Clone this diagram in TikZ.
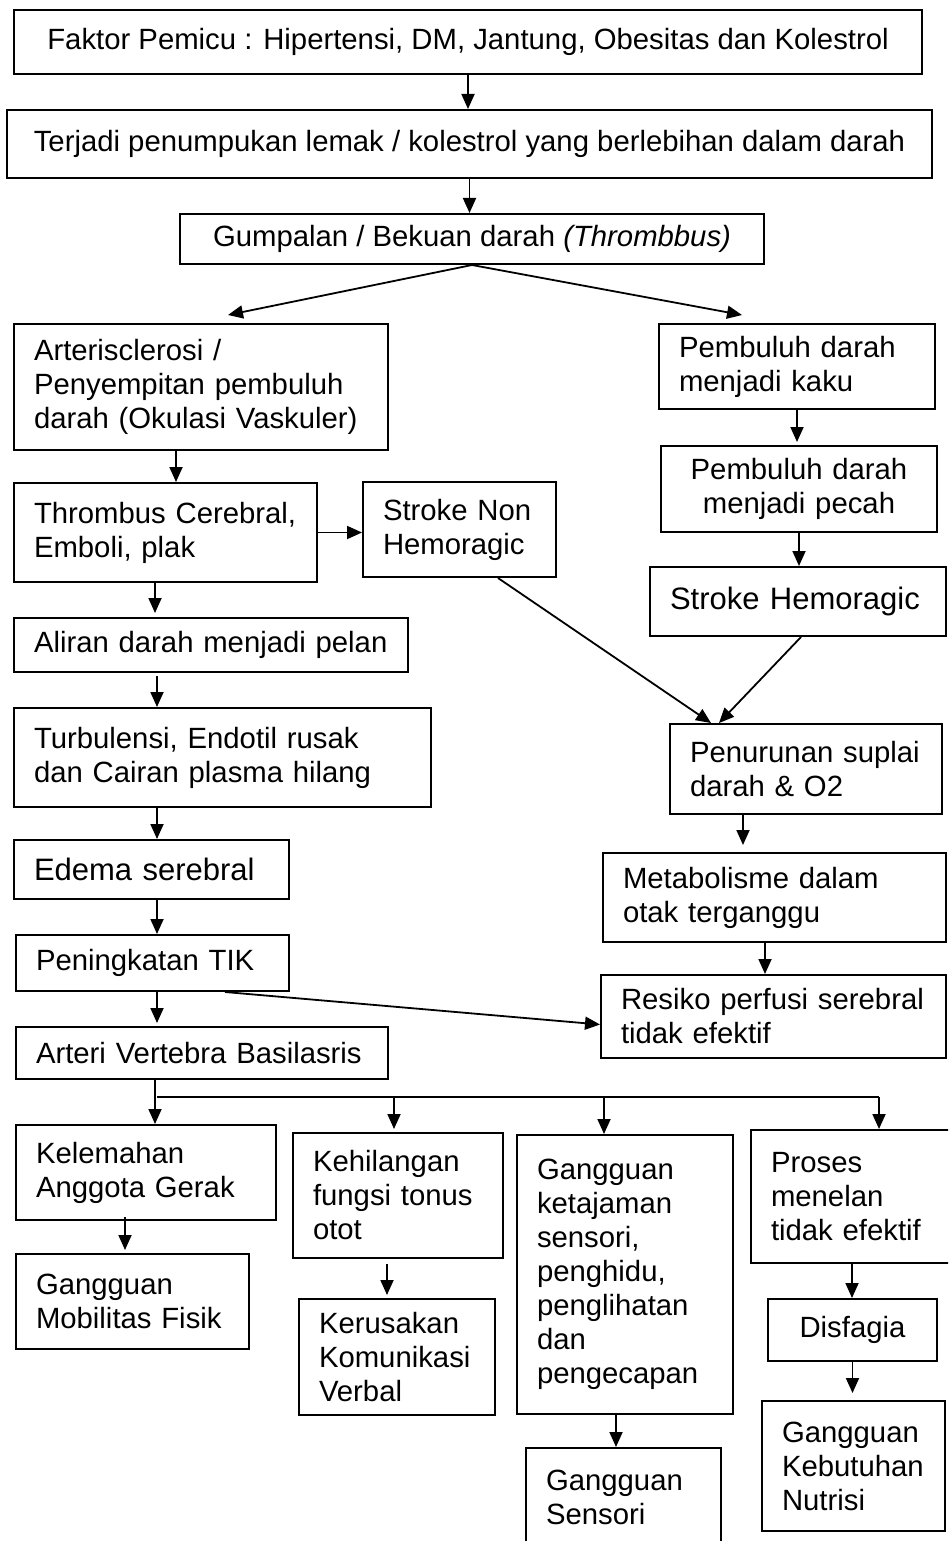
\documentclass[tikz,border=0pt]{standalone}
\usepackage{fontspec}
\setmainfont{Liberation Sans}
\usetikzlibrary{arrows.meta}

\tikzset{
  kotak/.style={draw, line width=2pt, inner xsep=20pt, inner ysep=0pt, align=left,
    anchor=north west, font=\fontsize{29.3}{34}\selectfont},
  tengah/.style={kotak, align=center},
  besar/.style={font=\fontsize{31}{36}\selectfont}
}

\begin{document}
\begin{tikzpicture}[x=1pt,y=-1pt,>={Triangle[width=13pt,length=15pt]},line width=1.8pt]
\useasboundingbox (0,0) rectangle (948,1541);
\fill[white] (0,0) rectangle (948,1541);
\clip (0,0) rectangle (948,1541);

% atas
\node[tengah, minimum width=908, minimum height=64] (pemicu) at (13,9) {Faktor Pemicu : Hipertensi, DM, Jantung, Obesitas dan Kolestrol};
\node[tengah, minimum width=925, minimum height=68] (lemak) at (6,109) {Terjadi penumpukan lemak / kolestrol yang berlebihan dalam darah};
\node[tengah, minimum width=584, minimum height=50] (gumpal) at (179,213) {Gumpalan / Bekuan darah \textit{(Thrombbus)}};

% cabang kiri
\node[kotak, text width=334, minimum height=126] (arterio) at (13,323) {Arterisclerosi /\\Penyempitan pembuluh\\darah (Okulasi Vaskuler)};
\node[kotak, text width=263, minimum height=99] (thrombus) at (13,482) {Thrombus Cerebral,\\Emboli, plak};
\node[kotak, text width=153, minimum height=95] (nonhem) at (362,481) {Stroke Non\\Hemoragic};
\node[kotak, text width=354, minimum height=54] (aliran) at (13,617) {Aliran darah menjadi pelan};
\node[kotak, text width=377, minimum height=99] (turbulensi) at (13,707) {Turbulensi, Endotil rusak\\dan Cairan plasma hilang};
\node[kotak, besar, text width=235, minimum height=59] (edema) at (13,839) {Edema serebral};
\node[kotak, text width=233, minimum height=56] (tik) at (15,934) {Peningkatan TIK};
\node[kotak, text width=332, minimum height=52] (arteri) at (15,1026) {Arteri Vertebra Basilasris};

% cabang kanan
\node[kotak, text width=236, minimum height=85] (kaku) at (658,323) {Pembuluh darah\\menjadi kaku};
\node[tengah, text width=236, minimum height=86] (pecah) at (660,445) {Pembuluh darah\\menjadi pecah};
\node[kotak, besar, text width=256, minimum height=69] (hemoragic) at (649,566) {Stroke Hemoragic};
\node[kotak, text width=232, minimum height=90] (penurunan) at (669,723) {Penurunan suplai\\darah \& O2};
\node[kotak, text width=303, minimum height=89] (metabolisme) at (602,852) {Metabolisme dalam\\otak terganggu};
\node[kotak, text width=305, minimum height=83] (resiko) at (600,974) {Resiko perfusi serebral\\tidak efektif};

% baris bawah
\node[kotak, text width=220, minimum height=95] (kelemahan) at (15,1124) {Kelemahan\\Anggota Gerak};
\node[kotak, text width=193, minimum height=95] (mobilitas) at (15,1253) {Gangguan\\Mobilitas Fisik};
\node[kotak, text width=170, minimum height=125] (kehilangan) at (292,1132) {Kehilangan\\fungsi tonus\\otot};
\node[kotak, text width=156, minimum height=116] (kerusakan) at (298,1298) {Kerusakan\\Komunikasi\\Verbal};
\node[kotak, text width=176, minimum height=279] (ketajaman) at (516,1134) {Gangguan\\ketajaman\\sensori,\\penghidu,\\penglihatan\\dan\\pengecapan};
\node[kotak, text width=155, minimum height=98] (gsensori) at (525,1447) {Gangguan\\Sensori};
\node[kotak, text width=170, minimum height=133] (proses) at (750,1129) {Proses\\menelan\\tidak efektif};
\node[tengah, text width=129, minimum height=62] (disfagia) at (767,1298) {Disfagia};
\node[kotak, text width=143, minimum height=130] (kebutuhan) at (761,1400) {Gangguan\\Kebutuhan\\Nutrisi};

% panah
\draw[->] (pemicu.south) -- (pemicu.south |- lemak.north);
\draw[->] (lemak.south) -- (lemak.south |- gumpal.north);
\draw[->] (gumpal.south) -- ([xshift=215pt,yshift=8pt]arterio.north west);
\draw[->] (gumpal.south) -- ([xshift=84pt,yshift=8pt]kaku.north west);
\draw[->] ([xshift=163pt]arterio.south west) coordinate (p) -- (p |- thrombus.north);
\draw[->] (thrombus.east) -- (thrombus.east -| nonhem.west);
\draw[->, shorten >=4pt] ([xshift=142pt]thrombus.south west) coordinate (p) -- (p |- aliran.north);
\draw[->] ([xshift=144pt,yshift=-3pt]aliran.south west) coordinate (p) -- (p |- turbulensi.north);
\draw[->] ([xshift=144pt]turbulensi.south west) coordinate (p) -- (p |- edema.north);
\draw[->] ([xshift=144pt]edema.south west) coordinate (p) -- (p |- tik.north);
\draw[->, shorten >=3pt] ([xshift=142pt]tik.south west) coordinate (p) -- (p |- arteri.north);
\draw[->] ([xshift=210pt]tik.south west) -- ([yshift=-8pt]resiko.west);

\draw[->, shorten >=3pt] (kaku.south) -- (kaku.south |- pecah.north);
\draw[->] (pecah.south) -- (pecah.south |- hemoragic.north);
\draw[->] ([xshift=136pt]nonhem.south west) -- ([xshift=42pt]penurunan.north west);
\draw[->] ([xshift=152pt]hemoragic.south west) -- ([xshift=50pt]penurunan.north west);
\draw[->, shorten >=7pt] ([xshift=74pt]penurunan.south west) coordinate (p) -- (p |- metabolisme.north);
\draw[->] ([xshift=163pt]metabolisme.south west) coordinate (p) -- (p |- resiko.north);

% percabangan bawah
\coordinate (cabang) at (157,1097);
\coordinate (ujung) at (879,1097);
\draw (cabang) -- (ujung);
\draw[->] ([xshift=140pt]arteri.south west) coordinate (p) -- (p |- kelemahan.north);
\draw[->, shorten >=3pt] ([xshift=102pt]kehilangan.north west) coordinate (p) (cabang -| p) -- (p);
\draw[->] ([xshift=88pt]ketajaman.north west) coordinate (p) (cabang -| p) -- (p);
\draw[->] (ujung) -- (ujung |- proses.north);

\draw[->, shorten >=3pt] ([xshift=110pt,yshift=4pt]kelemahan.south west) coordinate (p) -- (p |- mobilitas.north);
\draw[->, shorten >=3pt] ([xshift=95pt,yshift=-5pt]kehilangan.south west) coordinate (p) -- (p |- kerusakan.north);
\draw[->] ([xshift=100pt]ketajaman.south west) coordinate (p) -- (p |- gsensori.north);
\draw[->] ([xshift=102pt]proses.south west) coordinate (p) -- (p |- disfagia.north);
\draw[->, shorten >=7pt] (disfagia.south) -- (disfagia.south |- kebutuhan.north);
\end{tikzpicture}
\end{document}
